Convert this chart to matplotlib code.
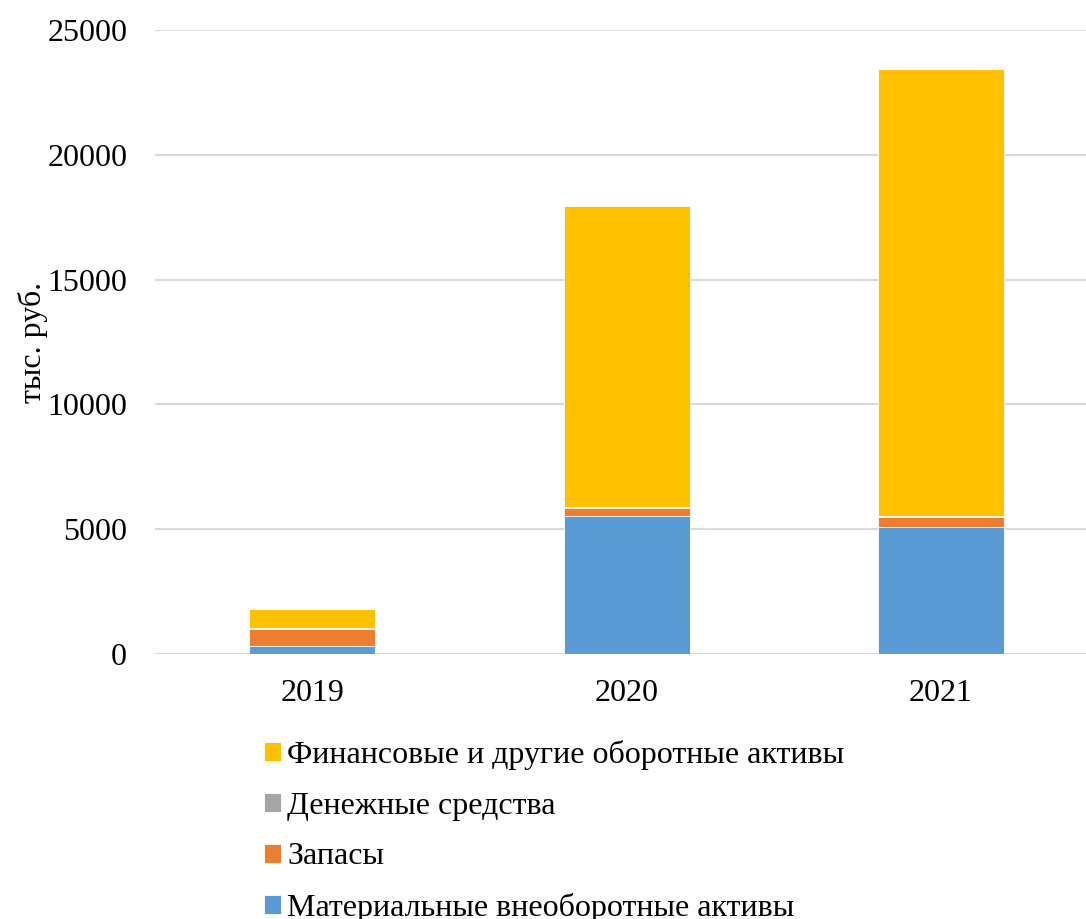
import matplotlib
matplotlib.use('Agg')
import matplotlib.pyplot as plt
import numpy as np

years = ['2019', '2020', '2021']
# тыс. руб.
mat_assets = [330, 5530, 5090]     # Материальные внеоборотные активы
stocks = [670, 330, 400]           # Запасы
cash = [50, 40, 40]                # Денежные средства
fin_assets = [760, 12030, 17910]   # Финансовые и другие оборотные активы

series = [
    ('Материальные внеоборотные активы', mat_assets, '#5B9BD5'),
    ('Запасы', stocks, '#ED7D31'),
    ('Денежные средства', cash, '#A5A5A5'),
    ('Финансовые и другие оборотные активы', fin_assets, '#FFC000'),
]

plt.rcParams['font.family'] = ['Liberation Serif', 'DejaVu Serif']

fig = plt.figure(figsize=(10.86, 9.19), dpi=100)
ax = fig.add_axes([155 / 1086, 1 - 654 / 919, 1 - 155 / 1086, (654 - 30) / 919])

x = np.arange(len(years))
bottom = np.zeros(len(years))
handles = []
for name, vals, color in series:
    b = ax.bar(x, vals, 0.4, bottom=bottom, color=color, label=name,
               edgecolor='white', linewidth=0.6, zorder=3)
    handles.append(b)
    bottom += np.array(vals)

ax.set_xlim(-0.5, 2.461)
ax.set_ylim(0, 25000)
ax.set_yticks(range(0, 25001, 5000))
ax.set_xticks(x)
ax.set_xticklabels(years)
ax.grid(axis='y', color='#D9D9D9', linewidth=1.5, zorder=0)
for s in ax.spines.values():
    s.set_visible(False)
ax.tick_params(axis='both', length=0, labelsize=23)
ax.tick_params(axis='x', pad=18)
ax.tick_params(axis='y', pad=20)
ax.set_ylabel('тыс. руб.', fontsize=23)
ax.yaxis.set_label_coords((48 - 155) / 931, (654 - 342) / 624)

fig.legend(handles[::-1], [s[0] for s in series][::-1],
           loc='upper left', bbox_to_anchor=(264 / 1086, 1 - 740 / 919),
           frameon=False, fontsize=23, handlelength=0.53, handleheight=0.53,
           handletextpad=0.2, labelspacing=0.68, borderpad=0, borderaxespad=0)

fig.savefig('out.png', dpi=100)
